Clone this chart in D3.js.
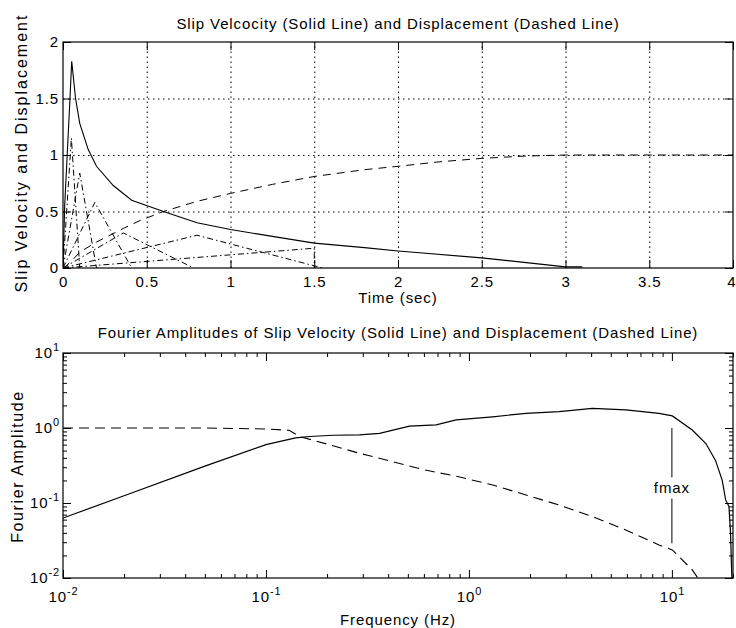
<!DOCTYPE html>
<html>
<head>
<meta charset="utf-8">
<script src="https://cdn.jsdelivr.net/npm/d3@7/dist/d3.min.js"></script>
<style>
  html, body { margin: 0; padding: 0; background: #fff; }
  svg { display: block; }
  text { font-family: "Liberation Sans", Arial, Helvetica, sans-serif; fill: #000; letter-spacing: 0.9px; }
</style>
</head>
<body>
<svg id="chart" width="736" height="628"></svg>
<script>
// ---- Slip velocity / displacement time histories ----
const velTime = [0, 0.01, 0.025, 0.04, 0.052, 0.075, 0.1, 0.15, 0.2, 0.3, 0.41, 0.6, 0.8, 1.0, 1.25, 1.5, 1.8, 2.0, 2.5, 3.0, 3.1];
const velocity = [0, 0.55, 1.0, 1.45, 1.83, 1.5, 1.28, 1.05, 0.9, 0.73, 0.6, 0.5, 0.4, 0.34, 0.28, 0.22, 0.18, 0.15, 0.09, 0.01, 0.01];

const dispTime = [0, 0.02, 0.05, 0.1, 0.2, 0.28, 0.36, 0.46, 0.6, 0.8, 1.0, 1.25, 1.5, 1.8, 2.0, 2.25, 2.5, 2.75, 3.0, 3.5, 4.0];
const displacement = [0, 0.02, 0.06, 0.14, 0.23, 0.29, 0.35, 0.42, 0.5, 0.59, 0.66, 0.74, 0.81, 0.87, 0.9, 0.94, 0.97, 0.99, 1.0, 1.0, 1.0];

// Triangular slip-rate components (time, value pairs as separate lists)
const compTimes = [
  [0, 0.05, 0.1],
  [0, 0.1, 0.2],
  [0, 0.19, 0.41],
  [0, 0.36, 0.78],
  [0, 0.8, 1.55],
  [0, 1.5, 1.5]
];
const compValues = [
  [0, 1.15, 0],
  [0, 0.84, 0],
  [0, 0.58, 0],
  [0, 0.31, 0],
  [0, 0.29, 0],
  [0, 0.175, 0]
];

// ---- Fourier amplitude spectra ----
const velFreq = [0.01, 0.02, 0.05, 0.1, 0.14, 0.164, 0.214, 0.289, 0.363, 0.509, 0.689, 0.865, 1.31, 1.91, 2.78, 4.06, 5.93, 8.64, 10.05, 12.6, 14.7, 16.4, 17.7, 18.4, 19.1, 19.45, 19.7, 19.8];
const velAmp = [0.063, 0.125, 0.31, 0.6, 0.74, 0.77, 0.8, 0.81, 0.85, 1.06, 1.1, 1.28, 1.41, 1.57, 1.65, 1.83, 1.74, 1.57, 1.45, 0.94, 0.62, 0.37, 0.2, 0.11, 0.09, 0.04, 0.012, 0.009];

const dispFreq = [0.01, 0.05, 0.1, 0.13, 0.1465, 0.214, 0.289, 0.32, 0.42, 0.61, 0.89, 1.31, 1.91, 2.78, 4.06, 5.93, 8.64, 10.05, 12.6, 13.5];
const dispAmp = [1.0, 1.0, 0.97, 0.93, 0.77, 0.58, 0.46, 0.43, 0.355, 0.275, 0.224, 0.174, 0.128, 0.094, 0.066, 0.0437, 0.0276, 0.0237, 0.0128, 0.0098];

// ---- Tick values ----
const timeTicks = [0, 0.5, 1, 1.5, 2, 2.5, 3, 3.5, 4];
const slipTicks = [0, 0.5, 1, 1.5, 2];
const freqDecades = [0.01, 0.1, 1, 10];
const ampDecades = [0.01, 0.1, 1, 10];

const fmaxFreq = 10;

// ---- Layout ----
const svg = d3.select("#chart");
const left = 63, right = 733;
const top1 = { y0: 42, y1: 268 };
const top2 = { y0: 353, y1: 578 };
const TICK = 8, MINOR = 4;
const FS = 15;

svg.append("rect").attr("width", 736).attr("height", 628).attr("fill", "#fff");

function fmtNum(d) { return d === 0 ? "0" : String(d); }

// ============ Upper panel: time histories ============
const xT = d3.scaleLinear().domain([0, 4]).range([left, right]);
const yT = d3.scaleLinear().domain([0, 2]).range([top1.y1, top1.y0]);

const g1 = svg.append("g");

// dotted grid
const gridStyle = sel => sel.selectAll("line")
  .attr("stroke", "#000").attr("stroke-width", 1).attr("stroke-dasharray", "1.5,3.5");
g1.append("g").attr("transform", `translate(0,${top1.y1})`)
  .call(d3.axisBottom(xT).tickValues(timeTicks.slice(1, -1)).tickSize(-(top1.y1 - top1.y0)).tickFormat(""))
  .call(g => g.select(".domain").remove()).call(gridStyle);
g1.append("g").attr("transform", `translate(${left},0)`)
  .call(d3.axisLeft(yT).tickValues(slipTicks.slice(1, -1)).tickSize(-(right - left)).tickFormat(""))
  .call(g => g.select(".domain").remove()).call(gridStyle);

// curves
svg.append("clipPath").attr("id", "clip1").append("rect")
  .attr("x", left).attr("y", top1.y0).attr("width", right - left).attr("height", top1.y1 - top1.y0 + 1);
const lineT = d3.line().x(d => xT(d[0])).y(d => yT(d[1]));
const curves1 = g1.append("g").attr("clip-path", "url(#clip1)");

compTimes.forEach((ts, i) => {
  curves1.append("path")
    .attr("d", lineT(ts.map((t, j) => [t, compValues[i][j]])))
    .attr("fill", "none").attr("stroke", "#000").attr("stroke-width", 1)
    .attr("stroke-dasharray", "6,3,1.5,3");
});
curves1.append("path")
  .attr("d", lineT(dispTime.map((t, i) => [t, displacement[i]])))
  .attr("fill", "none").attr("stroke", "#000").attr("stroke-width", 1)
  .attr("stroke-dasharray", "8,6");
curves1.append("path")
  .attr("d", lineT(velTime.map((t, i) => [t, velocity[i]])))
  .attr("fill", "none").attr("stroke", "#000").attr("stroke-width", 1.1);

// axes with inward ticks
function styleAxis(g) {
  g.select(".domain").remove();
  g.selectAll(".tick line").attr("stroke", "#000").attr("stroke-width", 1);
  g.selectAll(".tick text").attr("font-size", FS).attr("fill", "#000")
    .attr("font-family", "Liberation Sans, Arial, sans-serif");
}
const timeAxis = g1.append("g").attr("transform", `translate(0,${top1.y1})`)
  .call(d3.axisBottom(xT).tickValues(timeTicks).tickSize(-TICK).tickSizeOuter(0).tickPadding(8).tickFormat(fmtNum))
  .call(styleAxis);
// last label sits against the right edge of the canvas
timeAxis.selectAll(".tick text").filter(d => d === timeTicks[timeTicks.length - 1])
  .attr("text-anchor", "end").attr("x", 736 - right);
g1.append("g").attr("transform", `translate(0,${top1.y0})`)
  .call(d3.axisTop(xT).tickValues(timeTicks).tickSize(-TICK).tickSizeOuter(0).tickFormat(""))
  .call(styleAxis);
g1.append("g").attr("transform", `translate(${left},0)`)
  .call(d3.axisLeft(yT).tickValues(slipTicks).tickSize(-TICK).tickSizeOuter(0).tickPadding(4).tickFormat(fmtNum))
  .call(styleAxis);
g1.append("g").attr("transform", `translate(${right},0)`)
  .call(d3.axisRight(yT).tickValues(slipTicks).tickSize(-TICK).tickSizeOuter(0).tickFormat(""))
  .call(styleAxis);

g1.append("rect").attr("x", left).attr("y", top1.y0)
  .attr("width", right - left).attr("height", top1.y1 - top1.y0)
  .attr("fill", "none").attr("stroke", "#000").attr("stroke-width", 1.2);

svg.append("text").attr("x", (left + right) / 2).attr("y", 29).attr("text-anchor", "middle")
  .attr("font-size", FS).text("Slip Velcocity (Solid Line) and Displacement (Dashed Line)");
svg.append("text").attr("x", (left + right) / 2).attr("y", 303).attr("text-anchor", "middle")
  .attr("font-size", FS).text("Time (sec)");
svg.append("text").attr("transform", `translate(27,${(top1.y0 + top1.y1) / 2 - 2}) rotate(-90)`)
  .attr("text-anchor", "middle").attr("font-size", 16).style("letter-spacing", "2px")
  .text("Slip Velocity and Displacement");

// ============ Lower panel: Fourier amplitudes ============
const xF = d3.scaleLog().domain([0.01, 20]).range([left, right]);
const yF = d3.scaleLog().domain([0.01, 10]).range([top2.y1, top2.y0]);
const g2 = svg.append("g");

svg.append("clipPath").attr("id", "clip2").append("rect")
  .attr("x", left).attr("y", top2.y0).attr("width", right - left).attr("height", top2.y1 - top2.y0);
const lineF = d3.line().x(d => xF(d[0])).y(d => yF(d[1]));
const curves2 = g2.append("g").attr("clip-path", "url(#clip2)");
curves2.append("path")
  .attr("d", lineF(dispFreq.map((f, i) => [f, dispAmp[i]])))
  .attr("fill", "none").attr("stroke", "#000").attr("stroke-width", 1.1)
  .attr("stroke-dasharray", "10,6");
curves2.append("path")
  .attr("d", lineF(velFreq.map((f, i) => [f, velAmp[i]])))
  .attr("fill", "none").attr("stroke", "#000").attr("stroke-width", 1.2);

// fmax marker
g2.append("line").attr("x1", xF(fmaxFreq)).attr("x2", xF(fmaxFreq))
  .attr("y1", yF(1.0)).attr("y2", yF(0.22)).attr("stroke", "#000");
g2.append("line").attr("x1", xF(fmaxFreq)).attr("x2", xF(fmaxFreq))
  .attr("y1", yF(0.115)).attr("y2", yF(0.029)).attr("stroke", "#000");
g2.append("text").attr("x", xF(fmaxFreq)).attr("y", yF(0.16) + 5).attr("text-anchor", "middle")
  .attr("font-size", FS).text("fmax");

// log-axis minor ticks
const minorX = xF.ticks().filter(v => !freqDecades.some(d => Math.abs(d - v) < 1e-9));
const minorY = yF.ticks().filter(v => !ampDecades.some(d => Math.abs(d - v) < 1e-9));

function powLabel(sel, d) {
  const e = Math.round(Math.log10(d));
  sel.text(null);
  sel.append("tspan").text("10");
  sel.append("tspan").attr("dy", -7).attr("font-size", 11).text(String(e));
}

g2.append("g").attr("transform", `translate(0,${top2.y1})`)
  .call(d3.axisBottom(xF).tickValues(minorX).tickSize(-MINOR).tickSizeOuter(0).tickFormat(""))
  .call(styleAxis);
g2.append("g").attr("transform", `translate(0,${top2.y0})`)
  .call(d3.axisTop(xF).tickValues(minorX).tickSize(-MINOR).tickSizeOuter(0).tickFormat(""))
  .call(styleAxis);
g2.append("g").attr("transform", `translate(${left},0)`)
  .call(d3.axisLeft(yF).tickValues(minorY).tickSize(-MINOR).tickSizeOuter(0).tickFormat(""))
  .call(styleAxis);
g2.append("g").attr("transform", `translate(${right},0)`)
  .call(d3.axisRight(yF).tickValues(minorY).tickSize(-MINOR).tickSizeOuter(0).tickFormat(""))
  .call(styleAxis);

// major decade ticks and labels
const xAxisF = g2.append("g").attr("transform", `translate(0,${top2.y1})`)
  .call(d3.axisBottom(xF).tickValues(freqDecades).tickSize(-TICK).tickSizeOuter(0).tickPadding(13))
  .call(styleAxis);
xAxisF.selectAll(".tick text").each(function (d) { powLabel(d3.select(this), d); })
  .attr("text-anchor", "middle");
g2.append("g").attr("transform", `translate(0,${top2.y0})`)
  .call(d3.axisTop(xF).tickValues(freqDecades).tickSize(-TICK).tickSizeOuter(0).tickFormat(""))
  .call(styleAxis);
const yAxisF = g2.append("g").attr("transform", `translate(${left},0)`)
  .call(d3.axisLeft(yF).tickValues(ampDecades).tickSize(-TICK).tickSizeOuter(0).tickPadding(3))
  .call(styleAxis);
yAxisF.selectAll(".tick text").each(function (d) { powLabel(d3.select(this), d); });
g2.append("g").attr("transform", `translate(${right},0)`)
  .call(d3.axisRight(yF).tickValues(ampDecades).tickSize(-TICK).tickSizeOuter(0).tickFormat(""))
  .call(styleAxis);

g2.append("rect").attr("x", left).attr("y", top2.y0)
  .attr("width", right - left).attr("height", top2.y1 - top2.y0)
  .attr("fill", "none").attr("stroke", "#000").attr("stroke-width", 1.2);

svg.append("text").attr("x", (left + right) / 2).attr("y", 338).attr("text-anchor", "middle")
  .attr("font-size", FS).text("Fourier Amplitudes of Slip Velocity (Solid Line) and Displacement (Dashed Line)");
svg.append("text").attr("x", (left + right) / 2).attr("y", 625).attr("text-anchor", "middle")
  .attr("font-size", FS).text("Frequency (Hz)");
svg.append("text").attr("transform", `translate(23,${(top2.y0 + top2.y1) / 2 + 1}) rotate(-90)`)
  .attr("text-anchor", "middle").attr("font-size", 16).style("letter-spacing", "1.6px")
  .text("Fourier Amplitude");
</script>
</body>
</html>
